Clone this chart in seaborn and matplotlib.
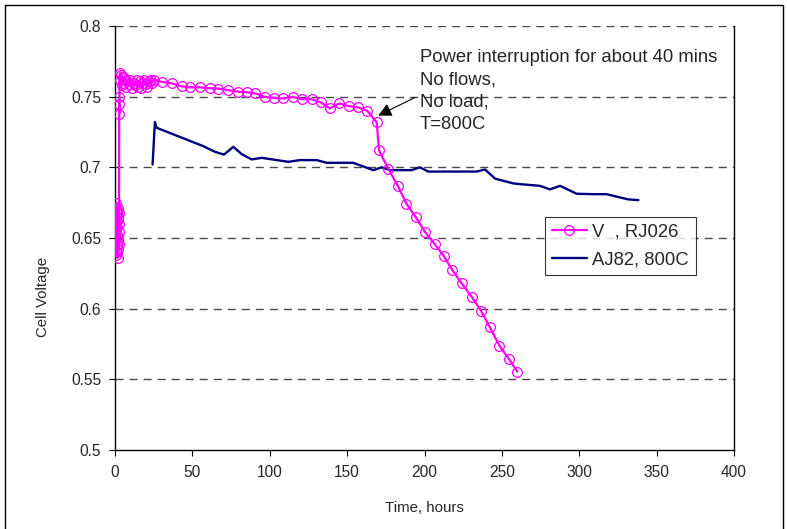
import matplotlib
matplotlib.use("Agg")
import matplotlib.pyplot as plt
import seaborn as sns
import pandas as pd
from matplotlib.lines import Line2D
from matplotlib.ticker import FuncFormatter

# ---- data ----
pink_t = [0.2, 0.3, 0.4, 0.5, 0.6, 0.7, 0.8, 0.9, 1.0, 1.1, 1.2, 1.3, 1.4, 1.5,
          1.6, 1.7, 1.8, 1.9, 2.0, 2.1, 2.2, 2.3, 2.4, 2.5, 2.6,
          2.7, 2.8, 2.9, 3.0, 3.5, 4.0, 4.5, 5.0, 5.5, 6.0, 7.0, 8.0, 9.0, 10.0,
          11.0, 12.0, 13.0, 14.0, 15.0, 16.0, 17.0, 18.0, 19.0, 20.0, 21.0, 22.0,
          23.0, 24.0, 25.0,
          30.2, 36.6, 43.1, 48.5, 54.9, 61.4, 66.8, 73.3, 79.7, 85.1, 90.5, 96.9,
          102.7, 108.8, 114.8, 121.1, 127.1, 133.1, 138.9, 144.9, 151.2, 157.2,
          163.0, 169.1, 170.6, 176.6, 182.7, 188.3, 194.2, 200.5, 206.6, 212.5,
          218.0, 224.0, 230.5, 236.5, 242.3, 248.4, 254.6, 260.0]
pink_v = [0.672, 0.665, 0.650, 0.641, 0.660, 0.675, 0.655, 0.638, 0.645, 0.668,
          0.662, 0.640, 0.652, 0.670, 0.658, 0.636, 0.648, 0.664, 0.671, 0.650,
          0.642, 0.660, 0.654, 0.646, 0.668,
          0.745, 0.738, 0.750, 0.762, 0.767, 0.765, 0.758, 0.764, 0.760, 0.763,
          0.757, 0.761, 0.759, 0.762, 0.756, 0.760, 0.758, 0.762, 0.757, 0.761,
          0.756, 0.760, 0.762, 0.759, 0.757, 0.761, 0.762, 0.760, 0.762,
          0.7605, 0.7594, 0.7572, 0.7566, 0.7566, 0.7559, 0.7557, 0.7546, 0.7535,
          0.7531, 0.7524, 0.7498, 0.7491, 0.7487, 0.7498, 0.7482, 0.7482, 0.7459,
          0.7417, 0.7452, 0.7433, 0.7424, 0.7400, 0.7318, 0.7120, 0.6990, 0.6870,
          0.6743, 0.6650, 0.6540, 0.6457, 0.6372, 0.6273, 0.6179, 0.6084, 0.5985,
          0.5868, 0.5738, 0.5644, 0.5554]

navy_t = [24.3, 25.8, 26.9, 57.0, 64.6, 70.4, 76.5, 81.9, 88.3, 94.8, 112.0,
          119.5, 130.3, 136.8, 154.0, 166.9, 172.3, 177.7, 191.7, 197.0, 202.4,
          233.7, 239.1, 245.6, 257.4, 263.9, 274.6, 281.1, 287.6, 298.3, 309.1,
          317.7, 326.3, 331.7, 338.2]
navy_v = [0.702, 0.732, 0.728, 0.715, 0.711, 0.709, 0.7145, 0.7093, 0.7056,
          0.7067, 0.7039, 0.7051, 0.7051, 0.7032, 0.7032, 0.6980, 0.7000, 0.6980,
          0.6980, 0.7000, 0.6970, 0.6970, 0.6985, 0.6920, 0.6886, 0.6879, 0.6869,
          0.6844, 0.6869, 0.6813, 0.6810, 0.6810, 0.6787, 0.6773, 0.6768]

pink_label = "V  , RJ026"
navy_label = "AJ82, 800C"
x_ticks = [0, 50, 100, 150, 200, 250, 300, 350, 400]
y_ticks = [0.5, 0.55, 0.6, 0.65, 0.7, 0.75, 0.8]
note = "Power interruption for about 40 mins\nNo flows,\nNo load,\nT=800C"

# ---- plot ----
sns.set_style("white")
plt.rcParams["font.family"] = ["Liberation Sans", "DejaVu Sans"]

fig = plt.figure(figsize=(7.87, 5.29), dpi=100)
ax = fig.add_axes([0.1461, 0.1493, 0.9327 - 0.1461, 0.9509 - 0.1493])

for y in y_ticks[1:]:
    ax.axhline(y, color="#4a4a4a", lw=1.0, linestyle=(0, (5.8, 4.3)), zorder=0)

pink_df = pd.DataFrame({"t": pink_t, "v": pink_v})
navy_df = pd.DataFrame({"t": navy_t, "v": navy_v})

sns.lineplot(data=pink_df, x="t", y="v", ax=ax, sort=False, estimator=None,
             color="#FF00FF", lw=1.6, marker="o", markersize=7,
             markerfacecolor="none", markeredgecolor="#FF00FF",
             markeredgewidth=0.9, label=pink_label, zorder=3)
sns.lineplot(data=navy_df, x="t", y="v", ax=ax, sort=False, estimator=None,
             color="#000080", lw=1.7, label=navy_label, zorder=2)

ax.set_xlim(0, 400)
ax.set_ylim(0.5, 0.8)
ax.set_xticks(x_ticks)
ax.set_yticks(y_ticks)
ax.yaxis.set_major_formatter(FuncFormatter(lambda v, p: "%g" % round(v, 2)))
ax.tick_params(axis="both", direction="out", length=4, width=0.8, color="black",
               labelsize=11.2, pad=6)
ax.tick_params(axis="x", pad=7)
ax.tick_params(left=True, bottom=True)

for s in ["left", "bottom", "right"]:
    ax.spines[s].set_visible(True)
    ax.spines[s].set_color("black")
    ax.spines[s].set_linewidth(1.0)
ax.spines["top"].set_visible(False)

ax.set_xlabel("Time, hours", fontsize=10.8, labelpad=15)
ax.set_ylabel("Cell Voltage", fontsize=10.8, labelpad=14)
ax.yaxis.set_label_coords(-0.105, 0.36)

ax.annotate(note, xy=(170.1, 0.7366), xytext=(197.0, 0.7835),
            fontsize=13.3, ha="left", va="top", linespacing=1.41,
            annotation_clip=False)
ax.annotate("", xy=(170.1, 0.7366), xytext=(193.8, 0.7494),
            arrowprops=dict(arrowstyle="-|>", color="black", lw=0.8,
                            mutation_scale=20, shrinkA=0, shrinkB=0),
            annotation_clip=False)

leg = ax.legend(loc="upper left", bbox_to_anchor=(0.6947, 0.5495), fontsize=13.3,
                frameon=True, fancybox=False, edgecolor="black",
                handlelength=1.9, borderpad=0.36, labelspacing=0.57,
                handletextpad=0.3, borderaxespad=0)
leg.get_frame().set_linewidth(0.8)

# outer chart frame
fig.add_artist(Line2D([0.0065, 0.0065], [0, 0.9905], color="black", lw=1.0,
                      transform=fig.transFigure))
fig.add_artist(Line2D([0.0065, 0.995], [0.9905, 0.9905], color="black", lw=1.0,
                      transform=fig.transFigure))
fig.add_artist(Line2D([0.995, 0.995], [0, 0.9905], color="black", lw=1.0,
                      transform=fig.transFigure))

fig.savefig("out.png", dpi=100)
